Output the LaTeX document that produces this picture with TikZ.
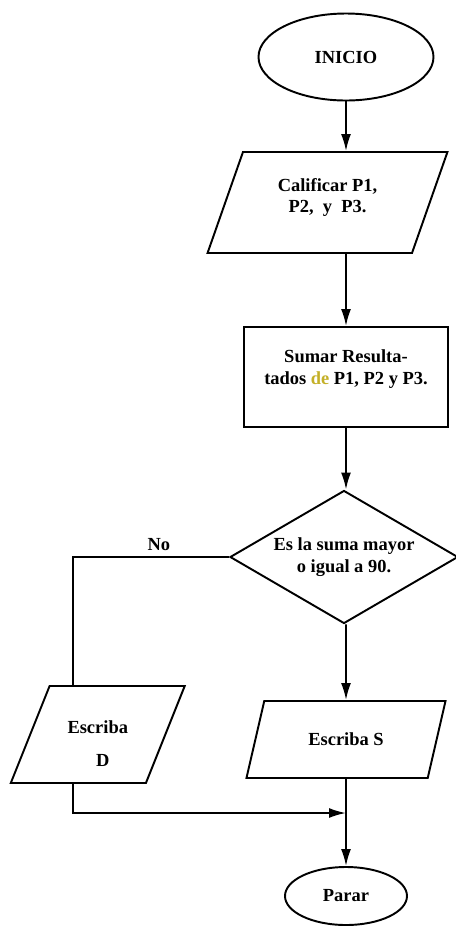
\documentclass[tikz,border=0pt]{standalone}
\usepackage{fontspec}
\setmainfont{Liberation Serif}
\usepackage{xcolor}
\usetikzlibrary{shapes.geometric, arrows.meta}
\definecolor{marcade}{RGB}{196,176,40}

\begin{document}
\begin{tikzpicture}[
        >={Latex[length=3.4mm, width=2mm]},
        every node/.style={font=\fontsize{10.5}{12.5}\selectfont\bfseries},
        terminal/.style={draw, ellipse, line width=1.1pt, align=center},
        datos/.style={draw, trapezium, trapezium left angle=69, trapezium right angle=111, trapezium stretches=true, line width=1.1pt, align=center},
        proceso/.style={draw, rectangle, line width=1.1pt, align=center},
        decision/.style={draw, diamond, aspect=1.71, line width=1.1pt, align=center, inner sep=0pt},
        linea/.style={line width=1.1pt}
    ]
        \useasboundingbox (0,0) rectangle (9.12,-18.52);

        % Nodes
        \node (inicio) [terminal, minimum width=3.5cm, minimum height=1.74cm] at (6.92,-1.14) {INICIO};
        \node (calif) [datos, minimum width=4.82cm, minimum height=2.02cm] at (6.55,-4.05) {Calificar P1,\\P2,\ \ y\ \ P3.\rule[-0.28cm]{0pt}{0pt}};
        \node (sumar) [proceso, minimum width=4.08cm, minimum height=2.0cm] at (6.92,-7.54) {Sumar Resulta-\\tados {\color{marcade}de} P1, P2 y P3.\rule[-0.38cm]{0pt}{0pt}};
        \node (dec) [decision, minimum width=4.56cm, minimum height=2.66cm] at (6.88,-11.14) {Es la suma mayor\\o igual a 90.};
        \node (escd) [datos, minimum width=3.5cm, minimum height=1.94cm] at (1.955,-14.69) {\rule{0pt}{0.63cm}Escriba\\[6pt]\hspace*{0.2cm}D};
        \node (escs) [datos, minimum width=4.0cm, minimum height=1.54cm] at (6.92,-14.79) {Escriba S};
        \node (parar) [terminal, minimum width=2.44cm, minimum height=1.16cm] at (6.92,-17.92) {Parar};
        \coordinate (codo) at (1.46,-11.14);
        \coordinate (union) at (6.92,-16.26);

        % Arrows
        \draw [->, linea] (inicio.south) -- (inicio.south |- calif.north);
        \draw [->, linea] (calif.south -| sumar) -- (sumar.north);
        \draw [->, linea] (sumar.south) -- (sumar.south |- dec.north);
        \draw [->, linea] (sumar.south |- dec.south) -- (escs.north);
        \draw [linea] (dec.west) -- node[above, pos=0.45] {No} (codo) -- (codo |- escd.north);
        \draw [->, linea] (codo |- escd.south) -- (codo |- union) -- (union);
        \draw [->, linea] (escs.south) -- (parar.north);
    \end{tikzpicture}
\end{document}
